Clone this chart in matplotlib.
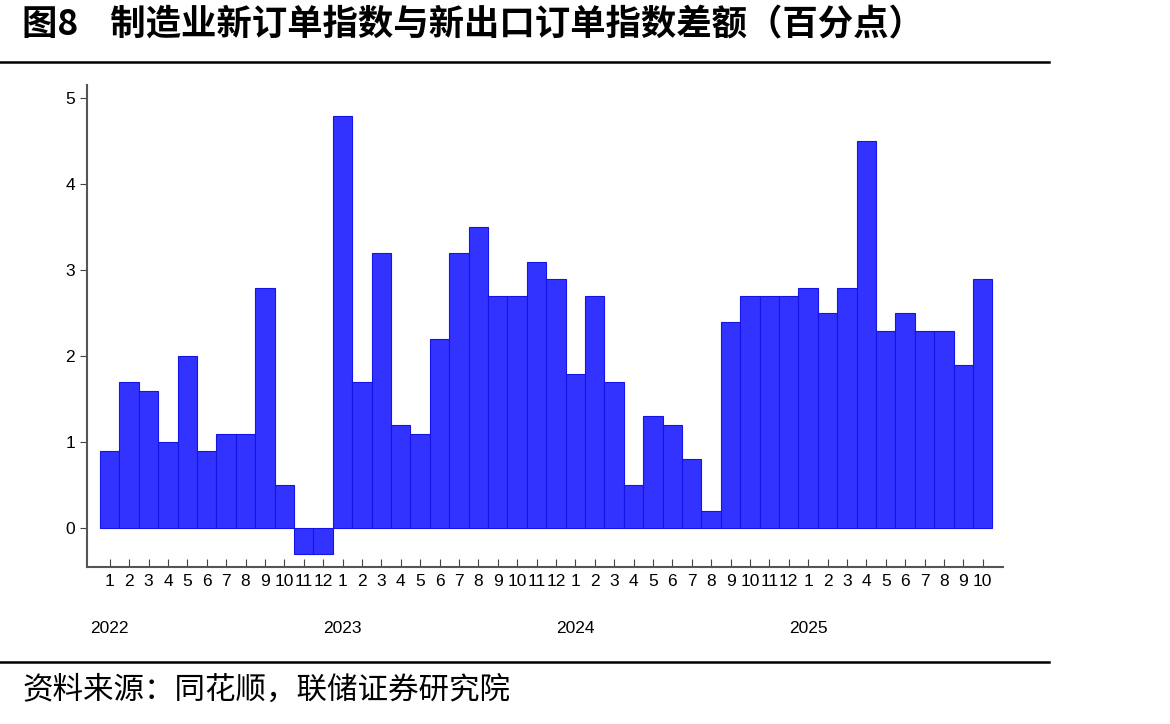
import numpy as np
import matplotlib
matplotlib.use('Agg')
import matplotlib.pyplot as plt

plt.rcParams['font.family'] = ['Liberation Sans', 'Noto Sans CJK SC', 'DejaVu Sans']

years = ['2022', '2023', '2024', '2025']
months_per_year = [12, 12, 12, 10]

v2022 = [0.9, 1.7, 1.6, 1.0, 2.0, 0.9, 1.1, 1.1, 2.8, 0.5, -0.3, -0.3]
v2023 = [4.8, 1.7, 3.2, 1.2, 1.1, 2.2, 3.2, 3.5, 2.7, 2.7, 3.1, 2.9]
v2024 = [1.8, 2.7, 1.7, 0.5, 1.3, 1.2, 0.8, 0.2, 2.4, 2.7, 2.7, 2.7]
v2025 = [2.8, 2.5, 2.8, 4.5, 2.3, 2.5, 2.3, 2.3, 1.9, 2.9]

title = '图8    制造业新订单指数与新出口订单指数差额（百分点）'
source = '资料来源：同花顺，联储证券研究院'


def main():
    values = np.array(v2022 + v2023 + v2024 + v2025)
    month_labels = [str(m) for n in months_per_year for m in range(1, n + 1)]
    x = np.arange(len(values))

    fig = plt.figure(figsize=(11.7, 7.24), dpi=100)
    ax = fig.add_axes([0.0744, 0.217, 0.783, 0.666])

    ax.bar(x, values, width=1.0, color='#3333ff', edgecolor='#1414e6', lw=0.8)

    ax.set_xlim(-1.17, 46.05)
    ax.set_ylim(-0.45, 5.16)
    ax.set_yticks(range(0, 6))
    ax.set_xticks(x)
    ax.set_xticklabels(month_labels, fontsize=12.5)
    ax.tick_params(axis='x', direction='in', length=6, pad=5, color='#444444')
    ax.tick_params(axis='y', direction='out', length=5, labelsize=12.5, color='#444444')

    for s in ['top', 'right']:
        ax.spines[s].set_visible(False)
    for s in ['left', 'bottom']:
        ax.spines[s].set_color('#555555')
        ax.spines[s].set_linewidth(1.5)

    # year labels under first month of each year
    start = 0
    for y, n in zip(years, months_per_year):
        ax.text(start, -0.127, y, transform=ax.get_xaxis_transform(),
                ha='center', va='center', fontsize=12.5)
        start += n

    fig.text(0.019, 0.965, title, fontsize=25.5, fontweight='bold',
             family=['Noto Sans CJK SC', 'DejaVu Sans'], va='center', ha='left')
    fig.add_artist(plt.Line2D([0, 0.897], [0.915, 0.915], color='black', lw=1.8))
    fig.add_artist(plt.Line2D([0, 0.897], [0.085, 0.085], color='black', lw=1.8))
    fig.text(0.019, 0.046, source, fontsize=22,
             family=['Noto Sans CJK SC', 'DejaVu Sans'], va='center', ha='left')

    fig.savefig('out.png', dpi=100)


if __name__ == '__main__':
    main()
